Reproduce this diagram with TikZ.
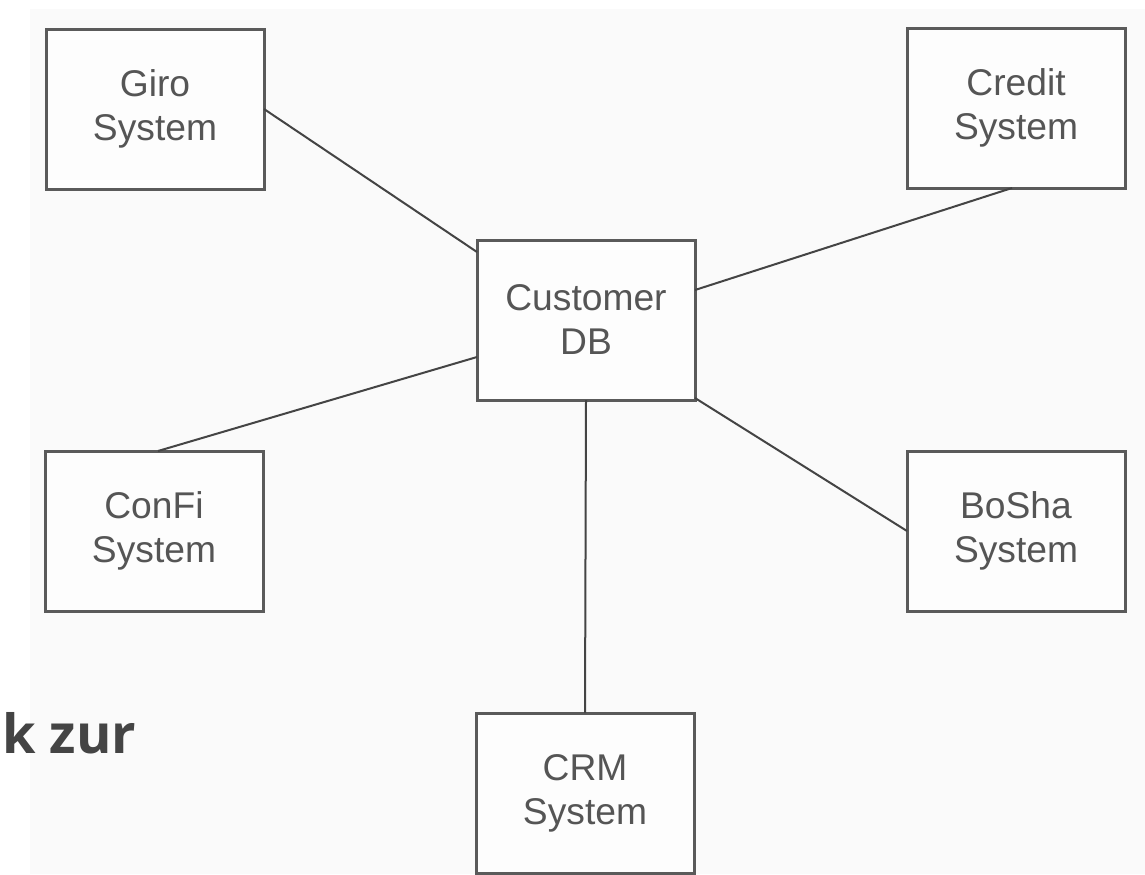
\documentclass[tikz,border=0pt]{standalone}
\usepackage{fontspec}
\setmainfont{Liberation Sans}
\newfontfamily\captionfont{Open Sans}
\definecolor{pagebg}{HTML}{FAFAFA}
\definecolor{boxline}{HTML}{5A5A5A}
\definecolor{wireline}{HTML}{444444}
\definecolor{labeltext}{HTML}{555555}
\definecolor{captiontext}{HTML}{444444}
\tikzset{
  sysbox/.style={draw=boxline, line width=1.5pt, fill=white!60!pagebg,
    minimum width=109pt, minimum height=80pt, inner sep=0pt, outer sep=0pt,
    align=center, text=labeltext,
    font=\fontsize{18.6}{22}\selectfont},
  wire/.style={draw=wireline, line width=1pt}
}
\begin{document}
\begin{tikzpicture}[x=0.5pt, y=-0.5pt]
  \useasboundingbox (0,0) rectangle (1145,874);
  \fill[white] (0,0) rectangle (1145,874);
  \fill[pagebg] (30,9) rectangle (1145,874);

  % caption fragment at the left edge
  \node[anchor=base west, inner sep=0pt, text=captiontext,
        font=\captionfont\bfseries\fontsize{27}{32}\selectfont] (cap) at (2,753) {k zur};

  % systems around the customer database
  \node[sysbox] (giro)   at (155,109) {Giro\\System};
  \node[sysbox] (credit) at (1016,108) {Credit\\System};
  \node[sysbox] (db)     at (586,320) {Customer\\DB};
  \node[sysbox] (confi)  at (154,531) {ConFi\\System};
  \node[sysbox] (bosha)  at (1016,531) {BoSha\\System};
  \node[sysbox] (crm)    at (585,793) {CRM\\System};

  % connections
  \draw[wire] (giro.east) -- ([yshift=-6pt]db.north west);
  \draw[wire] ([xshift=-2pt]credit.south) -- ([yshift=-25pt]db.north east);
  \draw[wire] ([xshift=2pt]confi.north) -- ([yshift=21.5pt]db.south west);
  \draw[wire] ([yshift=1pt]db.south east) -- (bosha.west);
  \draw[wire] (db.south) -- (crm.north);
\end{tikzpicture}
\end{document}
